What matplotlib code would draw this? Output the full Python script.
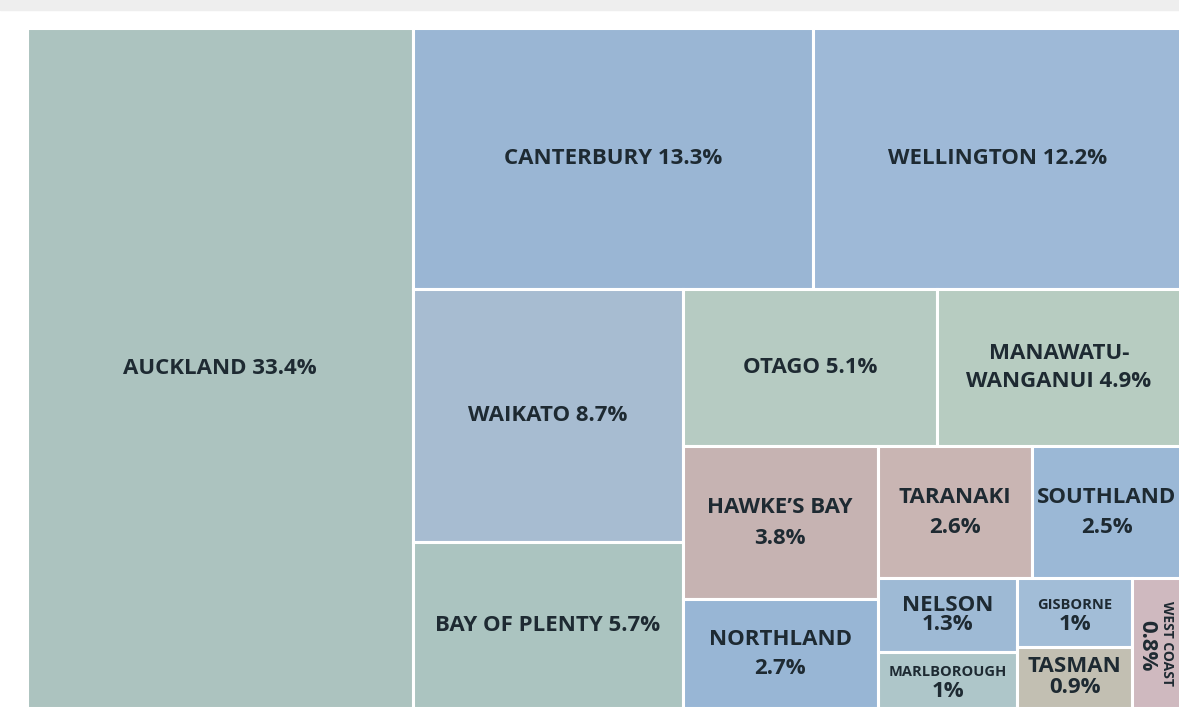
import matplotlib.pyplot as plt
from matplotlib.patches import Rectangle

plt.rcParams["font.family"] = ["Open Sans", "DejaVu Sans"]

# 지역별 인구 비율 (%)
regions = [
    "AUCKLAND", "CANTERBURY", "WELLINGTON", "WAIKATO", "BAY OF PLENTY",
    "OTAGO", "MANAWATU-WANGANUI", "HAWKE’S BAY", "NORTHLAND", "TARANAKI",
    "SOUTHLAND", "NELSON", "GISBORNE", "MARLBOROUGH", "TASMAN", "WEST COAST",
]
shares = [33.4, 13.3, 12.2, 8.7, 5.7, 5.1, 4.9, 3.8, 2.7, 2.6, 2.5, 1.3, 1, 1, 0.9, 0.8]

# 트리맵 분할 구조 ("h" = 좌우로 나눔, "v" = 위아래로 나눔)
tree = ("h", [
    "AUCKLAND",
    ("v", [
        ("h", ["CANTERBURY", "WELLINGTON"]),
        ("h", [
            ("v", ["WAIKATO", "BAY OF PLENTY"]),
            ("v", [
                ("h", ["OTAGO", "MANAWATU-WANGANUI"]),
                ("h", [
                    ("v", ["HAWKE’S BAY", "NORTHLAND"]),
                    ("v", [
                        ("h", ["TARANAKI", "SOUTHLAND"]),
                        ("h", [
                            ("v", ["NELSON", "MARLBOROUGH"]),
                            ("v", ["GISBORNE", "TASMAN"]),
                            "WEST COAST",
                        ]),
                    ]),
                ]),
            ]),
        ]),
    ]),
])

colors = {
    "AUCKLAND": "#acc3bf",
    "CANTERBURY": "#9ab6d4",
    "WELLINGTON": "#9eb9d7",
    "WAIKATO": "#a7bcd1",
    "BAY OF PLENTY": "#abc4c0",
    "OTAGO": "#b6cbc2",
    "MANAWATU-WANGANUI": "#b7ccc1",
    "HAWKE’S BAY": "#c6b3b2",
    "NORTHLAND": "#98b6d5",
    "TARANAKI": "#c9b5b3",
    "SOUTHLAND": "#9bb8d6",
    "NELSON": "#9ebad5",
    "GISBORNE": "#a2bdd7",
    "MARLBOROUGH": "#aec6c9",
    "TASMAN": "#c2bfb2",
    "WEST COAST": "#cfb9bf",
}

# 라벨 형태: (모드, 줄간격)
label_style = {
    "AUCKLAND": ("inline", 1.0),
    "CANTERBURY": ("inline", 1.0),
    "WELLINGTON": ("inline", 1.0),
    "WAIKATO": ("inline", 1.0),
    "BAY OF PLENTY": ("inline", 1.0),
    "OTAGO": ("inline", 1.0),
    "MANAWATU-WANGANUI": ("manawatu", 1.45),
    "HAWKE’S BAY": ("stack", 1.65),
    "NORTHLAND": ("stack", 1.5),
    "TARANAKI": ("stack", 1.55),
    "SOUTHLAND": ("stack", 1.55),
    "NELSON": ("stack", 0.9),
    "GISBORNE": ("small", 0),
    "MARLBOROUGH": ("small", 0),
    "TASMAN": ("stack", 1.0),
    "WEST COAST": ("vertical", 0),
}

size_of = dict(zip(regions, shares))
text_color = "#1e2a32"


def node_size(node):
    if isinstance(node, str):
        return size_of[node]
    return sum(node_size(c) for c in node[1])


def split(node, x, y, w, h, out):
    if isinstance(node, str):
        out[node] = (x, y, w, h)
        return
    direction, children = node
    total = node_size(node)
    for c in children:
        frac = node_size(c) / total
        if direction == "h":
            split(c, x, y, w * frac, h, out)
            x += w * frac
        else:
            split(c, x, y, w, h * frac, out)
            y += h * frac


rects = {}
split(tree, 0, 0, 1, 1, rects)

fig = plt.figure(figsize=(11.79, 7.28), dpi=100)
fig.patches.append(
    Rectangle((0, 1 - 10 / 728), 1, 10 / 728, transform=fig.transFigure,
              color="#eeeeee", zorder=0)
)
ax = fig.add_axes([27 / 1179, 20 / 728, 1154 / 1179, 680 / 728])
ax.set_xlim(0, 1)
ax.set_ylim(1, 0)
ax.axis("off")

for name, pct in zip(regions, shares):
    x, y, w, h = rects[name]
    ax.add_patch(Rectangle((x, y), w, h, facecolor=colors[name],
                           edgecolor="white", linewidth=2.2))
    cx, cy = x + w / 2, y + h / 2
    value = f"{pct:g}%"
    mode, ls = label_style[name]
    kw = dict(ha="center", va="center", color=text_color, fontweight="bold")
    if mode == "inline":
        ax.text(cx, cy, f"{name} {value}", fontsize=16, **kw)
    elif mode == "manawatu":
        ax.text(cx, cy, f"MANAWATU-\nWANGANUI {value}", fontsize=16,
                linespacing=ls, multialignment="center", **kw)
    elif mode == "stack":
        ax.text(cx, cy, f"{name}\n{value}", fontsize=16,
                linespacing=ls, multialignment="center", **kw)
    elif mode == "small":
        ax.annotate(name, (cx, cy), xytext=(0, 8), textcoords="offset pixels",
                    fontsize=10.5, **kw)
        ax.annotate(value, (cx, cy), xytext=(0, -12), textcoords="offset pixels",
                    fontsize=16, **kw)
    elif mode == "vertical":
        ax.annotate(name, (cx, cy), xytext=(10, 0), textcoords="offset pixels",
                    fontsize=10, rotation=-90, **kw)
        ax.annotate(value, (cx, cy), xytext=(-10, -2), textcoords="offset pixels",
                    fontsize=16, rotation=-90, **kw)

fig.savefig("out.png", dpi=100)
